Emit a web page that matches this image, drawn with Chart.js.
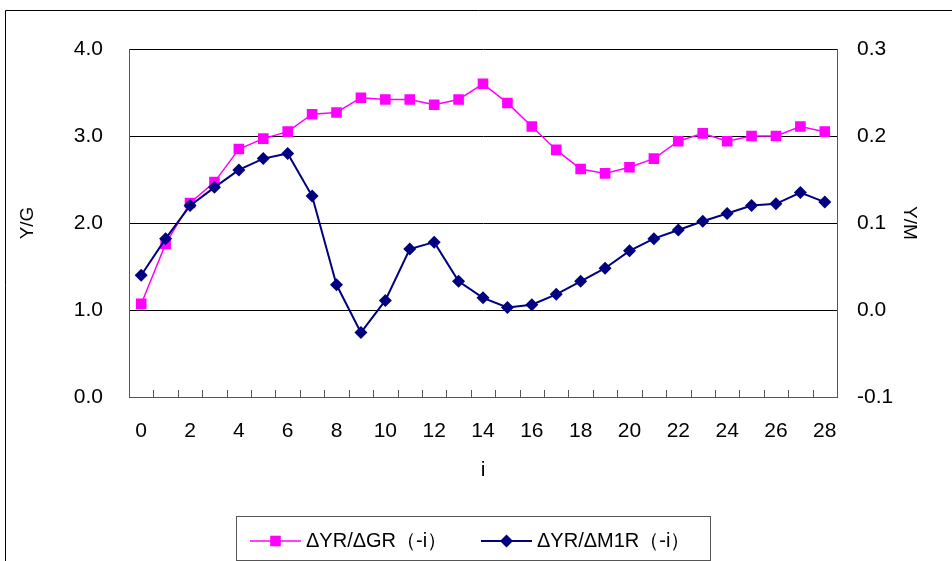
<!DOCTYPE html>
<html>
<head>
<meta charset="utf-8">
<script src="https://cdn.jsdelivr.net/npm/chart.js@4.4.1/dist/chart.umd.min.js"></script>
<style>
  html, body { margin: 0; padding: 0; background: #fff; }
  canvas { display: block; }
</style>
</head>
<body>
<canvas id="myChart" width="952" height="561"></canvas>
<script>
// categories i = 0..28
const categories = [0,1,2,3,4,5,6,7,8,9,10,11,12,13,14,15,16,17,18,19,20,21,22,23,24,25,26,27,28];

// ΔYR/ΔGR (left axis)
const seriesGR = [1.07,1.76,2.23,2.47,2.85,2.97,3.05,3.25,3.27,3.44,3.42,3.42,3.36,3.42,3.60,
                  3.38,3.11,2.84,2.62,2.57,2.64,2.74,2.94,3.03,2.94,3.00,3.00,3.11,3.05];

// ΔYR/ΔM1R (right axis)
const seriesM1R = [0.040,0.082,0.120,0.141,0.161,0.174,0.180,0.131,0.029,-0.026,0.011,0.070,0.078,0.033,0.014,
                   0.003,0.006,0.018,0.033,0.048,0.068,0.082,0.092,0.102,0.111,0.120,0.122,0.135,0.124];

const labelGR = 'ΔYR/ΔGR（-i）';
const labelM1R = 'ΔYR/ΔM1R（-i）';
const leftTitle = 'Y/G';
const rightTitle = 'Y/M';
const xTitle = 'i';

const FONT = 'Arial, "Liberation Sans", sans-serif';

// outer frame, inward x ticks and the boxed legend
const framePlugin = {
    id: 'frame',
    beforeDraw(chart) {
        const ctx = chart.ctx;
        ctx.save();
        ctx.fillStyle = '#fff';
        ctx.fillRect(0, 0, chart.width, chart.height);
        ctx.strokeStyle = '#000';
        ctx.lineWidth = 1;
        ctx.beginPath();
        ctx.moveTo(5.5, chart.height);
        ctx.lineTo(5.5, 10.5);
        ctx.lineTo(chart.width, 10.5);
        ctx.stroke();
        ctx.restore();
    },
    afterDraw(chart) {
        const ctx = chart.ctx;
        const xs = chart.scales.x;
        ctx.save();

        // tick marks between categories, pointing into the plot
        const step = xs.getPixelForValue(1) - xs.getPixelForValue(0);
        ctx.strokeStyle = '#555';
        ctx.lineWidth = 1;
        ctx.beginPath();
        for (let i = 1; i < categories.length; i++) {
            const px = Math.round(xs.getPixelForValue(i) - step / 2) + 0.5;
            ctx.moveTo(px, xs.top);
            ctx.lineTo(px, xs.top - 7);
        }
        ctx.stroke();

        // legend box
        ctx.strokeStyle = '#555';
        ctx.strokeRect(236.5, 516.5, 474, 44);
        const items = [
            { ds: chart.data.datasets[0], x0: 250, x1: 301, tx: 306 },
            { ds: chart.data.datasets[1], x0: 481, x1: 532, tx: 537 },
        ];
        const y = 541;
        items.forEach(it => {
            ctx.strokeStyle = it.ds.borderColor;
            ctx.lineWidth = it.ds.borderWidth;
            ctx.beginPath();
            ctx.moveTo(it.x0, y);
            ctx.lineTo(it.x1, y);
            ctx.stroke();
            ctx.fillStyle = it.ds.backgroundColor;
            ctx.strokeStyle = it.ds.backgroundColor;
            Chart.helpers.drawPoint(ctx, {
                pointStyle: it.ds.pointStyle,
                radius: it.ds.pointRadius,
                borderWidth: 0
            }, (it.x0 + it.x1) / 2, y);
            ctx.fillStyle = '#000';
            ctx.font = '20px ' + FONT;
            ctx.textBaseline = 'middle';
            ctx.textAlign = 'left';
            ctx.fillText(it.ds.label, it.tx, y);
        });
        ctx.restore();
    }
};

window.onload = () => {
    const canvas = document.getElementById('myChart');
    const ctx = canvas.getContext('2d');

    const myChart = new Chart(ctx, {
        type: 'line',
        data: {
            labels: categories,
            datasets: [
                {
                    label: labelGR,
                    data: seriesGR,
                    yAxisID: 'y',
                    borderColor: '#FF00FF',
                    backgroundColor: '#FF00FF',
                    borderWidth: 1.5,
                    pointStyle: 'rect',
                    pointRadius: 7.5,
                    pointBorderWidth: 0,
                    order: 1,
                },
                {
                    label: labelM1R,
                    data: seriesM1R,
                    yAxisID: 'y1',
                    borderColor: '#000080',
                    backgroundColor: '#000080',
                    borderWidth: 2,
                    pointStyle: 'rectRot',
                    pointRadius: 6.5,
                    pointBorderWidth: 0,
                    order: 0,
                },
            ]
        },
        options: {
            responsive: false,
            animation: false,
            devicePixelRatio: 1,
            elements: {
                line: { tension: 0 }
            },
            layout: {
                padding: { left: 0, right: 0, top: 49, bottom: 0 }
            },
            plugins: {
                legend: { display: false },
                tooltip: { enabled: false },
            },
            scales: {
                x: {
                    type: 'category',
                    offset: true,
                    afterFit: (s) => { s.height = 164; },
                    grid: {
                        display: false,
                        drawTicks: false,
                    },
                    border: { display: true, color: '#555', width: 1 },
                    ticks: {
                        autoSkip: false,
                        maxRotation: 0,
                        padding: 22,
                        color: '#000',
                        font: { size: 21, family: FONT },
                        callback: function(value, index) {
                            return index % 2 === 0 ? String(categories[index]) : '';
                        }
                    },
                    title: {
                        display: true,
                        text: xTitle,
                        color: '#000',
                        font: { size: 21, family: FONT },
                        padding: { top: 0, bottom: 78 }
                    }
                },
                y: {
                    position: 'left',
                    min: 0,
                    max: 4,
                    afterFit: (s) => { s.width = 129; },
                    grid: {
                        display: true,
                        color: '#000',
                        drawTicks: false,
                    },
                    border: { display: true, color: '#555', width: 1 },
                    ticks: {
                        stepSize: 1,
                        padding: 26,
                        color: '#000',
                        font: { size: 21, family: FONT },
                        callback: (v) => v.toFixed(1)
                    },
                    title: {
                        display: true,
                        text: leftTitle,
                        color: '#000',
                        font: { size: 19, family: FONT },
                        padding: { top: 16, bottom: 0 }
                    }
                },
                y1: {
                    position: 'right',
                    min: -0.1,
                    max: 0.3,
                    afterFit: (s) => { s.width = 115; },
                    grid: {
                        display: false,
                        drawOnChartArea: false,
                        drawTicks: false,
                    },
                    border: { display: true, color: '#555', width: 1 },
                    ticks: {
                        stepSize: 0.1,
                        padding: 20,
                        color: '#000',
                        font: { size: 21, family: FONT },
                        callback: (v) => (Math.round(v * 10) / 10).toFixed(1)
                    },
                    title: {
                        display: true,
                        text: rightTitle,
                        color: '#000',
                        font: { size: 19, family: FONT },
                        padding: { top: 31, bottom: 0 }
                    }
                }
            }
        },
        plugins: [framePlugin]
    });
}
</script>
</body>
</html>
